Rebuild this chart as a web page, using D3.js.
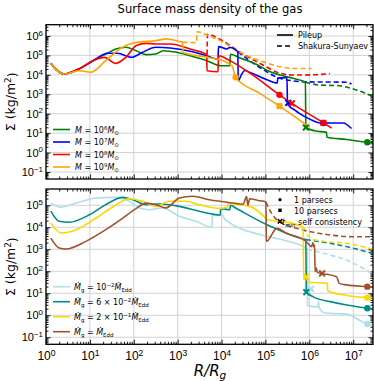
<!DOCTYPE html>
<html>
<head>
<meta charset="utf-8">
<script src="https://d3js.org/d3.v7.min.js"></script>
<style>
body { margin: 0; background: #fff; }
svg { font-family: "DejaVu Sans", sans-serif; }
</style>
</head>
<body>
<div id="chart"></div>
<script>
// data: [log10(R/Rg), log10(Sigma)]

// top panel, black hole mass series (Pileup = solid, SS = dashed)
const massLabels = ["6", "7", "8", "9"];
const massColors = ["green", "blue", "red", "orange"];

const m6Pileup = [[0.11,4.59],[0.41,4.04],[0.75,4.30],[1.05,4.70],[1.13,4.81],[1.40,5.11],[1.59,5.33],[1.82,5.42],[2.05,5.24],[2.28,5.04],[2.50,5.07],[2.67,5.24],[2.98,5.16],[3.28,4.98],[3.66,4.73],[3.97,4.47],[4.19,4.47],[4.20,5.06],[4.44,4.85],[4.87,4.45],[5.02,4.25],[5.33,3.99],[5.63,3.82],[5.91,3.62],[5.92,1.29],[6.12,1.12],[6.39,1.04],[6.40,0.79],[6.85,0.67],[7.32,0.53],[7.45,0.50]];
const m6SS = [[5.91,3.62],[6.25,3.47],[6.62,3.45],[7.07,3.22],[7.45,2.88]];

const m7Pileup = [[0.11,4.59],[0.41,4.04],[0.75,4.30],[1.05,4.70],[1.13,4.81],[1.40,5.11],[1.63,5.11],[1.94,4.90],[2.20,5.16],[2.50,5.42],[2.83,5.38],[3.28,5.21],[3.66,4.98],[3.92,4.81],[3.93,5.45],[4.12,5.33],[4.19,5.41],[4.37,5.19],[4.38,3.68],[4.44,3.95],[4.53,4.22],[4.64,4.13],[5.02,3.76],[5.27,3.58],[5.28,3.85],[5.49,3.85],[5.50,2.70],[5.52,2.45],[5.67,2.19],[5.78,2.00],[6.01,1.72],[6.25,1.52],[6.77,1.52],[6.96,1.24]];
const m7SS = [[4.37,5.19],[4.94,4.28],[5.33,3.82],[5.93,3.64],[6.85,3.62],[6.96,3.53]];

const m8Pileup = [[0.11,4.59],[0.41,4.04],[0.75,4.30],[1.05,4.70],[1.33,4.90],[1.59,4.59],[1.82,4.90],[2.05,5.50],[2.28,5.62],[2.50,5.59],[2.83,5.59],[3.28,5.33],[3.66,5.04],[3.67,4.21],[3.92,4.16],[3.93,4.98],[4.19,4.73],[4.64,4.10],[5.32,2.97],[5.60,2.53],[6.32,1.53],[6.51,1.26]];
const m8SS = [[3.67,5.04],[3.68,6.08],[3.97,5.82],[4.38,5.22],[4.94,4.51],[5.33,4.08],[5.63,3.99],[6.05,4.00],[6.47,4.06]];

const m9Pileup = [[0.11,4.59],[0.41,4.04],[0.75,4.21],[1.02,4.13],[1.36,4.73],[1.74,5.42],[2.05,5.67],[2.50,5.76],[2.74,5.85],[3.03,5.72],[3.11,5.68],[3.12,5.15],[3.69,4.90],[4.04,4.72],[4.24,4.45],[4.32,3.87],[4.87,3.05],[5.32,2.39],[6.01,1.29]];
const m9SS = [[3.11,5.68],[3.43,5.66],[3.44,6.22],[3.66,6.05],[3.97,5.76],[4.38,5.20],[4.94,4.68],[5.33,4.42],[5.63,4.33],[6.05,4.33]];

// markers: [series index, logR, logSigma]
const massOnePc = [[3,4.32,3.87],[2,5.32,2.97],[1,6.32,1.52],[0,7.32,0.53]];
const massTenPc = [[3,5.32,2.39],[2,6.32,1.53]];
const massTmin = [[1,5.52,2.56],[2,5.60,2.53],[0,5.92,1.29]];

// bottom panel, accretion rate series
const mdotExp = ["10^-2", "6 × 10^-2", "2 × 10^-1", ""];
const mdotColors = ["powderblue", "darkcyan", "gold", "sienna"];

const mdot1Pileup = [[0.11,5.10],[0.34,4.91],[0.69,5.10],[1.14,5.33],[1.51,5.36],[1.83,5.25],[2.13,4.88],[2.35,4.80],[2.65,4.88],[3.04,4.50],[3.42,4.27],[3.78,4.00],[3.79,4.57],[4.01,4.57],[4.08,4.35],[5.03,3.59],[5.45,3.40],[5.78,3.20],[5.95,3.00],[5.96,0.45],[6.20,0.38],[6.21,0.64],[6.22,0.36],[6.36,0.10],[6.85,0.05],[7.32,-0.40],[7.45,-0.45]];
const mdot1SS = [[5.95,3.00],[6.47,2.74],[6.85,2.51],[7.15,2.21],[7.45,1.90]];

const mdot2Pileup = [[0.11,4.73],[0.30,4.27],[0.53,4.23],[0.99,4.57],[1.36,5.03],[1.75,5.36],[1.98,5.25],[2.28,5.03],[2.58,5.06],[3.04,4.95],[3.49,4.73],[3.97,4.56],[3.98,4.85],[4.19,4.80],[4.20,5.00],[4.34,4.85],[5.05,4.10],[5.78,3.51],[5.92,3.44],[5.93,1.07],[6.08,0.85],[6.47,0.62],[6.85,0.47],[7.32,0.32],[7.45,0.30]];
const mdot2SS = [[5.92,3.44],[6.47,3.27],[7.00,3.05],[7.45,2.80]];

const mdot3Pileup = [[0.11,4.20],[0.34,3.74],[0.69,3.89],[1.14,4.42],[1.51,4.91],[1.90,5.30],[2.20,5.18],[2.50,4.95],[2.81,5.18],[3.19,5.18],[3.49,5.03],[3.97,4.86],[4.14,4.92],[4.15,5.10],[4.31,5.05],[4.64,4.95],[4.96,4.50],[5.03,4.35],[5.55,4.20],[5.86,4.00],[5.87,1.70],[5.93,1.75],[5.97,1.50],[6.41,1.45],[6.42,1.10],[6.85,0.90],[7.32,0.80],[7.45,0.78]];
const mdot3SS = [[5.86,4.00],[6.00,3.55],[6.25,3.38],[6.85,3.27],[7.45,3.00]];

const mdot4Pileup = [[0.11,3.51],[0.30,3.06],[0.45,3.01],[0.91,3.36],[1.36,3.89],[1.75,4.42],[2.05,4.85],[2.28,5.10],[2.50,5.03],[2.73,4.88],[3.04,5.33],[3.34,5.41],[3.72,5.25],[4.27,5.10],[4.49,5.05],[4.57,5.40],[4.60,5.00],[4.64,5.30],[4.84,5.22],[5.01,5.15],[5.02,3.35],[5.26,3.95],[5.48,3.73],[5.93,3.35],[6.05,3.12],[6.08,3.30],[6.10,3.10],[6.12,3.20],[6.13,1.98],[6.16,2.15],[6.18,1.95],[6.29,1.90],[6.62,1.75],[6.68,1.45],[6.85,1.38],[7.32,1.30],[7.45,1.28]];
const mdot4SS = [[5.01,5.15],[5.15,4.60],[5.33,4.24],[5.86,3.88],[6.47,3.65],[7.00,3.57],[7.45,3.57]];

const mdotOnePc = [[0,7.32,-0.40],[1,7.32,0.32],[2,7.32,0.80],[3,7.32,1.30]];
const mdotTmin = [[0,6.04,1.20],[1,5.93,1.05],[2,5.93,1.75],[3,6.29,1.90]];

const xTickExps = [0,1,2,3,4,5,6,7];
const yTopExps = [-1,0,1,2,3,4,5,6];
const yBotExps = [-1,0,1,2,3,4,5];

// layout
const W = 374, H = 381;
const left = 46, right = 373;
const top1 = 24.7, bot1 = 179;
const top2 = 189, bot2 = 344.3;

const svg = d3.select("#chart").append("svg").attr("width", W).attr("height", H);

const x = d3.scaleLog().domain([1, Math.pow(10, 7.45)]).range([left, right]);
const yTop = d3.scaleLog().domain([Math.pow(10, -1.36), Math.pow(10, 6.58)]).range([bot1, top1]);
const yBot = d3.scaleLog().domain([Math.pow(10, -1.32), Math.pow(10, 5.74)]).range([bot2, top2]);

svg.append("text").attr("x", 210).attr("y", 13).attr("text-anchor", "middle")
  .attr("font-size", 11.5).text("Surface mass density of the gas");

function minorVals(lo, hi) {
  const out = [];
  for (let e = lo; e <= hi; e++) for (let k = 2; k <= 9; k++) out.push(k * Math.pow(10, e));
  return out;
}

function supLabels(sel) {
  sel.selectAll(".tick text").each(function(d) {
    const e = Math.round(Math.log10(d));
    const t = d3.select(this).text("10");
    t.append("tspan").attr("dy", "-0.55em").attr("font-size", "0.72em")
      .text(e < 0 ? "\u2212" + (-e) : e);
  });
}

function panel(y, y0, y1, yExps, showX, id) {
  const g = svg.append("g");
  // grid
  g.selectAll(".gx").data(xTickExps.map(e => Math.pow(10, e))).enter().append("line")
    .attr("x1", d => x(d)).attr("x2", d => x(d)).attr("y1", y0).attr("y2", y1)
    .attr("stroke", "#d2d2d2").attr("stroke-width", 1);
  g.selectAll(".gy").data(yExps.map(e => Math.pow(10, e))).enter().append("line")
    .attr("x1", left).attr("x2", right).attr("y1", d => y(d)).attr("y2", d => y(d))
    .attr("stroke", "#d2d2d2").attr("stroke-width", 1);

  const xMaj = xTickExps.map(e => Math.pow(10, e));
  const xMin = minorVals(0, 7).filter(v => v <= Math.pow(10, 7.45));
  const yMaj = yExps.map(e => Math.pow(10, e));
  const yDom = y.domain();
  const yMin = minorVals(-2, 6).filter(v => v >= yDom[0] && v <= yDom[1]);

  const ax = (axis, tr) => g.append("g").attr("transform", tr).call(axis)
    .call(s => s.select(".domain").remove())
    .call(s => s.selectAll("line").attr("stroke", "#000").attr("stroke-width", 0.9));

  const xb = ax(d3.axisBottom(x).tickValues(xMaj).tickSize(-4.5).tickPadding(4), `translate(0,${y1})`);
  if (showX) { xb.selectAll("text").attr("font-size", 12).attr("fill", "#000").attr("dy", "1em"); supLabels(xb); }
  else xb.selectAll("text").remove();
  ax(d3.axisBottom(x).tickValues(xMin).tickFormat("").tickSize(-2.5), `translate(0,${y1})`);
  ax(d3.axisTop(x).tickValues(xMaj).tickFormat("").tickSize(-4.5), `translate(0,${y0})`);
  ax(d3.axisTop(x).tickValues(xMin).tickFormat("").tickSize(-2.5), `translate(0,${y0})`);

  const yl = ax(d3.axisLeft(y).tickValues(yMaj).tickSize(-4.5).tickPadding(3), `translate(${left},0)`);
  yl.selectAll("text").attr("font-size", 11).attr("fill", "#000");
  supLabels(yl);
  ax(d3.axisLeft(y).tickValues(yMin).tickFormat("").tickSize(-2.5), `translate(${left},0)`);
  ax(d3.axisRight(y).tickValues(yMaj).tickFormat("").tickSize(-4.5), `translate(${right},0)`);
  ax(d3.axisRight(y).tickValues(yMin).tickFormat("").tickSize(-2.5), `translate(${right},0)`);

  svg.append("clipPath").attr("id", id).append("rect")
    .attr("x", left).attr("y", y0).attr("width", right - left).attr("height", y1 - y0);

  // y label
  const yl2 = svg.append("text").attr("transform", `translate(15,${(y0 + y1) / 2}) rotate(-90)`)
    .attr("text-anchor", "middle").attr("font-size", 12.5);
  yl2.append("tspan").text("\u03A3 (kg/m");
  yl2.append("tspan").attr("dy", "-0.45em").attr("font-size", "0.7em").text("2");
  yl2.append("tspan").attr("dy", "0.45em").text(")");

  const plot = svg.append("g").attr("clip-path", `url(#${id})`);
  return plot;
}

const pTop = panel(yTop, top1, bot1, yTopExps, false, "clipTop");
const pBot = panel(yBot, top2, bot2, yBotExps, true, "clipBot");

function drawLine(p, y, pts, color, dashed) {
  const line = d3.line().x(d => x(Math.pow(10, d[0]))).y(d => y(Math.pow(10, d[1]))).curve(d3.curveMonotoneX);
  p.append("path").datum(pts).attr("d", line).attr("fill", "none")
    .attr("stroke", color).attr("stroke-width", 1.6)
    .attr("stroke-dasharray", dashed ? "5,3" : null);
}

function xMarker(p, cx, cy, s, color) {
  const a = s, b = s * 0.4;
  const d = `M${-a},${-a + b}L${-a + b},${-a}L0,${-b}L${a - b},${-a}L${a},${-a + b}L${b},0L${a},${a - b}L${a - b},${a}L0,${b}L${-a + b},${a}L${-a},${a - b}L${-b},0Z`;
  p.append("path").attr("d", d).attr("transform", `translate(${cx},${cy})`).attr("fill", color);
}

function drawMarkers(p, y, colors, onePc, tenPc, tmin) {
  onePc.forEach(m => p.append("circle").attr("cx", x(Math.pow(10, m[1]))).attr("cy", y(Math.pow(10, m[2])))
    .attr("r", 3.2).attr("fill", colors[m[0]]));
  tenPc.forEach(m => p.append("rect").attr("x", x(Math.pow(10, m[1])) - 3).attr("y", y(Math.pow(10, m[2])) - 3)
    .attr("width", 6).attr("height", 6).attr("fill", colors[m[0]]));
  tmin.forEach(m => xMarker(p, x(Math.pow(10, m[1])), y(Math.pow(10, m[2])), 3.6, colors[m[0]]));
}

// top panel
const massSS = [m6SS, m7SS, m8SS, m9SS];
const massPile = [m6Pileup, m7Pileup, m8Pileup, m9Pileup];
massSS.forEach((s, i) => drawLine(pTop, yTop, s, massColors[i], true));
massPile.forEach((s, i) => drawLine(pTop, yTop, s, massColors[i], false));
drawMarkers(pTop, yTop, massColors, massOnePc, massTenPc, massTmin);

// bottom panel
const mdotSS = [mdot1SS, mdot2SS, mdot3SS, mdot4SS];
const mdotPile = [mdot1Pileup, mdot2Pileup, mdot3Pileup, mdot4Pileup];
mdotSS.forEach((s, i) => drawLine(pBot, yBot, s, mdotColors[i], true));
mdotPile.forEach((s, i) => drawLine(pBot, yBot, s, mdotColors[i], false));
drawMarkers(pBot, yBot, mdotColors, mdotOnePc, [], mdotTmin);

// spines on top
[[top1, bot1], [top2, bot2]].forEach(([a, b]) => {
  svg.append("rect").attr("x", left).attr("y", a).attr("width", right - left).attr("height", b - a)
    .attr("fill", "none").attr("stroke", "#000").attr("stroke-width", 1.3);
});

// legend: mass
const legFs = 8;
massLabels.forEach((e, i) => {
  const ly = 129.5 + i * 12.5;
  svg.append("line").attr("x1", 53).attr("x2", 70).attr("y1", ly).attr("y2", ly)
    .attr("stroke", massColors[i]).attr("stroke-width", 1.6);
  const t = svg.append("text").attr("x", 75).attr("y", ly + 3).attr("font-size", legFs);
  t.append("tspan").attr("font-style", "italic").text("M");
  t.append("tspan").text(" = 10");
  t.append("tspan").attr("dy", -3).attr("font-size", 5.5).text(e);
  t.append("tspan").attr("dy", 3).attr("font-style", "italic").text("M");
  t.append("tspan").attr("dy", 2).attr("font-size", 5.5).text("\u2299");
});

// legend: line style
[["Pileup", null, 35], ["Shakura-Sunyaev", "5,3", 46]].forEach(([lab, dash, ly]) => {
  svg.append("line").attr("x1", 277).attr("x2", 293).attr("y1", ly).attr("y2", ly)
    .attr("stroke", "#000").attr("stroke-width", 1.6).attr("stroke-dasharray", dash);
  svg.append("text").attr("x", 298).attr("y", ly + 3).attr("font-size", legFs).text(lab);
});

// legend: accretion rate
mdotExp.forEach((e, i) => {
  const ly = 286.7 + i * 15;
  svg.append("line").attr("x1", 53).attr("x2", 70).attr("y1", ly).attr("y2", ly)
    .attr("stroke", mdotColors[i]).attr("stroke-width", 1.6);
  const t = svg.append("text").attr("x", 74).attr("y", ly + 3).attr("font-size", legFs);
  t.append("tspan").attr("font-style", "italic").text("\u1E40");
  t.append("tspan").attr("dy", 2).attr("font-size", 5.5).text("g");
  if (e) {
    const parts = e.split("^");
    t.append("tspan").attr("dy", -2).text(" = " + parts[0]);
    t.append("tspan").attr("dy", -3).attr("font-size", 5.5).text(parts[1].replace("-", "\u2212"));
    t.append("tspan").attr("dy", 3).attr("font-style", "italic").text("\u1E40");
  } else {
    t.append("tspan").attr("dy", -2).text(" = ");
    t.append("tspan").attr("font-style", "italic").text("\u1E40");
  }
  t.append("tspan").attr("dy", 2).attr("font-size", 5.5).text("Edd");
});

// legend: markers
svg.append("circle").attr("cx", 280).attr("cy", 199.7).attr("r", 1.6).attr("fill", "#000");
svg.append("rect").attr("x", 278.3).attr("y", 208.6).attr("width", 3.4).attr("height", 3.4).attr("fill", "#000");
xMarker(svg, 280, 221.3, 2.8, "#000");
svg.append("text").attr("x", 294).attr("y", 202.5).attr("font-size", legFs).text("1 parsecs");
svg.append("text").attr("x", 294).attr("y", 213.5).attr("font-size", legFs).text("10 parsecs");
const tm = svg.append("text").attr("x", 282).attr("y", 224.5).attr("font-size", legFs);
tm.append("tspan").attr("font-style", "italic").text("t");
tm.append("tspan").attr("dy", 2).attr("font-size", 5.5).attr("font-style", "italic").text("min");
tm.append("tspan").attr("dy", -2).text(" self consistency");

// x label
const xl = svg.append("text").attr("x", 210).attr("y", 376).attr("text-anchor", "middle")
  .attr("font-size", 15).attr("font-style", "italic");
xl.append("tspan").text("R/R");
xl.append("tspan").attr("dy", 3).attr("font-size", 10.5).text("g");
</script>
</body>
</html>
